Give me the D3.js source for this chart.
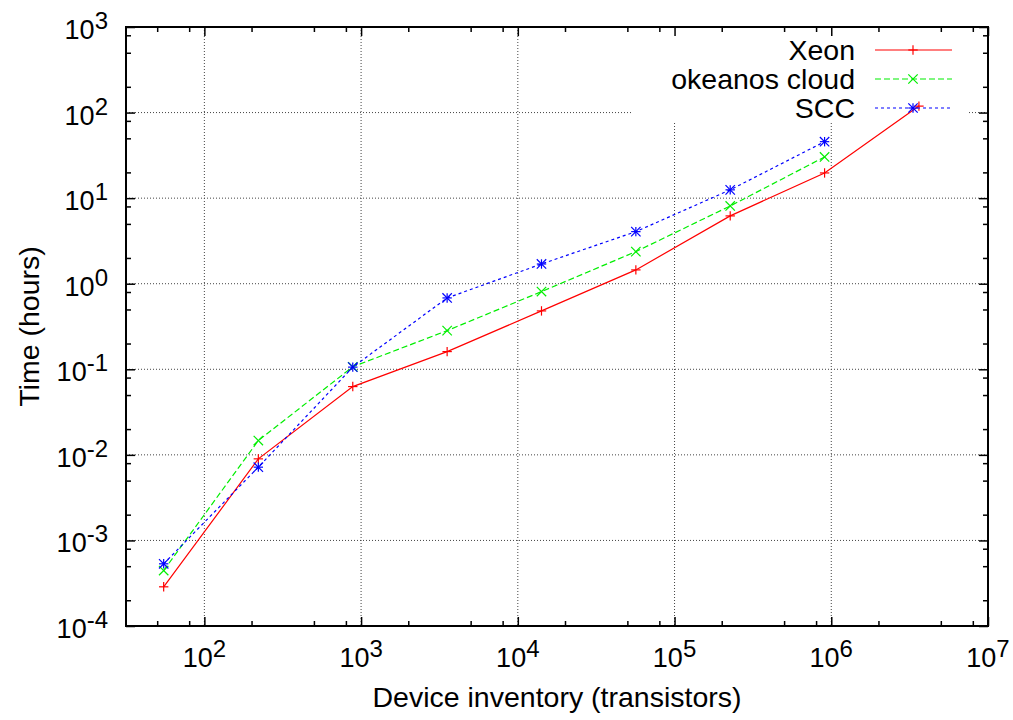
<!DOCTYPE html>
<html>
<head>
<meta charset="utf-8">
<script src="https://cdn.jsdelivr.net/npm/d3@7"></script>
<style>
  body { margin: 0; background: #fff; }
  #plot { width: 1013px; height: 720px; }
  text { font-family: "Liberation Sans", Arial, sans-serif; fill: #000; }
</style>
</head>
<body>
<div id="plot" class="canvas"></div>
<script>
// data
var transistors = [55, 221, 885, 3540, 14160, 56640, 226560, 906240, 3624960];
var xeonHours = [0.000287, 0.00898, 0.0628, 0.161, 0.481, 1.45, 6.2, 19.7, 119];
var okeanosHours = [0.000445, 0.0147, 0.107, 0.283, 0.809, 2.37, 8.1, 30.3];
var sccHours = [0.000533, 0.00718, 0.106, 0.682, 1.70, 4.06, 12.5, 45.7];
var seriesNames = ['Xeon', 'okeanos cloud', 'SCC'];
var xTickExps = [2, 3, 4, 5, 6, 7];
var yTickExps = [-4, -3, -2, -1, 0, 1, 2, 3];
var minorMults = [2, 5, 8];

var margin = {t:27, r:25, b:94, l:126};
var width = 1013 - margin.l - margin.r,
	height = 720 - margin.t - margin.b;

var svg = d3.select('.canvas')
	.append('svg')
	.attr('width', 1013)
	.attr('height', 720);

var plot = svg.append('g')
	.attr('class', 'plot')
	.attr('transform', 'translate(' + margin.l + ',' + margin.t + ')');

var x = d3.scaleLog().domain([Math.pow(10, 1.5), 1e7]).range([0, width]);
var y = d3.scaleLog().domain([1e-4, 1e3]).range([height, 0]);

// grid at the decades
var grid = plot.append('g').attr('class', 'grid');
xTickExps.forEach(function (e) {
	grid.append('line')
		.attr('x1', x(Math.pow(10, e))).attr('x2', x(Math.pow(10, e)))
		.attr('y1', 0).attr('y2', height);
});
yTickExps.forEach(function (e) {
	grid.append('line')
		.attr('x1', 0).attr('x2', width)
		.attr('y1', y(Math.pow(10, e))).attr('y2', y(Math.pow(10, e)));
});
grid.selectAll('line')
	.style('stroke', '#444')
	.style('stroke-width', 1)
	.style('stroke-dasharray', '1,2');

// the key box hides the grid behind it
plot.append('rect')
	.attr('x', 632 - margin.l).attr('y', 0)
	.attr('width', 968 - 632).attr('height', 122 - margin.t)
	.style('fill', '#fff');

// ticks, pointing inward on all four sides
var minorX = [], minorY = [];
xTickExps.concat([1]).forEach(function (e) {
	minorMults.forEach(function (m) {
		var v = m * Math.pow(10, e);
		if (v > x.domain()[0] && v < x.domain()[1]) minorX.push(v);
	});
});
yTickExps.forEach(function (e) {
	minorMults.forEach(function (m) {
		var v = m * Math.pow(10, e);
		if (v > y.domain()[0] && v < y.domain()[1]) minorY.push(v);
	});
});
var majorX = xTickExps.map(function (e) { return Math.pow(10, e); });
var majorY = yTickExps.map(function (e) { return Math.pow(10, e); });

function fmtPow(sel) {
	sel.each(function (d) {
		var t = d3.select(this);
		var e = Math.round(Math.log10(d));
		t.text(null);
		t.append('tspan').text('10');
		t.append('tspan').attr('dy', -10).style('font-size', '24px').text(e);
	});
}

plot.append('g').attr('transform', 'translate(0,' + height + ')')
	.call(d3.axisBottom(x).tickValues(majorX).tickSize(-9).tickFormat(''));
plot.append('g').attr('transform', 'translate(0,' + height + ')')
	.call(d3.axisBottom(x).tickValues(minorX).tickSize(-5).tickFormat(''));
plot.append('g')
	.call(d3.axisTop(x).tickValues(majorX).tickSize(-9).tickFormat(''));
plot.append('g')
	.call(d3.axisTop(x).tickValues(minorX).tickSize(-5).tickFormat(''));
plot.append('g')
	.call(d3.axisLeft(y).tickValues(majorY).tickSize(-9).tickFormat(''));
plot.append('g')
	.call(d3.axisLeft(y).tickValues(minorY).tickSize(-5).tickFormat(''));
plot.append('g').attr('transform', 'translate(' + width + ',0)')
	.call(d3.axisRight(y).tickValues(majorY).tickSize(-9).tickFormat(''));
plot.append('g').attr('transform', 'translate(' + width + ',0)')
	.call(d3.axisRight(y).tickValues(minorY).tickSize(-5).tickFormat(''));

plot.selectAll('.domain').remove();
plot.selectAll('.tick line').style('stroke', '#000').style('stroke-width', 1.5);

// frame
plot.append('rect')
	.attr('width', width).attr('height', height)
	.style('fill', 'none').style('stroke', '#000').style('stroke-width', 2);

// tick labels
plot.selectAll('.xlab').data(majorX).enter()
	.append('text')
	.attr('class', 'xlab')
	.attr('x', function (d) { return x(d); })
	.attr('y', height + 41)
	.attr('text-anchor', 'middle')
	.style('font-size', '27px')
	.call(fmtPow);

plot.selectAll('.ylab').data(majorY).enter()
	.append('text')
	.attr('class', 'ylab')
	.attr('x', -18)
	.attr('y', function (d) { return y(d) + 12; })
	.attr('text-anchor', 'end')
	.style('font-size', '27px')
	.call(fmtPow);

// axis titles
svg.append('text')
	.attr('x', margin.l + width / 2)
	.attr('y', 707)
	.attr('text-anchor', 'middle')
	.style('font-size', '28.5px')
	.text('Device inventory (transistors)');

svg.append('text')
	.attr('transform', 'translate(39,' + (margin.t + height / 2) + ') rotate(-90)')
	.attr('text-anchor', 'middle')
	.style('font-size', '28.5px')
	.text('Time (hours)');

// series
var series = [
	{name: seriesNames[0], values: xeonHours, color: '#ff0000', dash: null, mark: 'plus'},
	{name: seriesNames[1], values: okeanosHours, color: '#00ee00', dash: '6,3', mark: 'cross'},
	{name: seriesNames[2], values: sccHours, color: '#0000ff', dash: '3,3', mark: 'star'}
];

var line = d3.line()
	.x(function (d) { return x(d[0]); })
	.y(function (d) { return y(d[1]); });

function drawMark(g, mark, cx, cy, color) {
	var s = 4.7;
	var segs = [];
	if (mark === 'plus' || mark === 'star') {
		segs.push([cx - s, cy, cx + s, cy], [cx, cy - s, cx, cy + s]);
	}
	if (mark === 'cross' || mark === 'star') {
		segs.push([cx - s, cy - s, cx + s, cy + s], [cx - s, cy + s, cx + s, cy - s]);
	}
	segs.forEach(function (p) {
		g.append('line')
			.attr('x1', p[0]).attr('y1', p[1]).attr('x2', p[2]).attr('y2', p[3])
			.style('stroke', color).style('stroke-width', 1.2);
	});
}

series.forEach(function (s, i) {
	var pts = s.values.map(function (v, j) { return [transistors[j], v]; });
	plot.append('path')
		.datum(pts)
		.attr('d', line)
		.style('fill', 'none')
		.style('stroke', s.color)
		.style('stroke-width', 1.2)
		.style('stroke-dasharray', s.dash);
	var g = plot.append('g');
	pts.forEach(function (p) {
		drawMark(g, s.mark, x(p[0]), y(p[1]), s.color);
	});

	// key
	var ky = 50 + i * 29 - margin.t;
	plot.append('text')
		.attr('x', 855 - margin.l)
		.attr('y', ky + 10)
		.attr('text-anchor', 'end')
		.style('font-size', '28.5px')
		.text(s.name);
	plot.append('line')
		.attr('x1', 875 - margin.l).attr('x2', 952 - margin.l)
		.attr('y1', ky).attr('y2', ky)
		.style('stroke', s.color)
		.style('stroke-width', 1.2)
		.style('stroke-dasharray', s.dash);
	drawMark(plot.append('g'), s.mark, 913 - margin.l, ky, s.color);
});
</script>
</body>
</html>
